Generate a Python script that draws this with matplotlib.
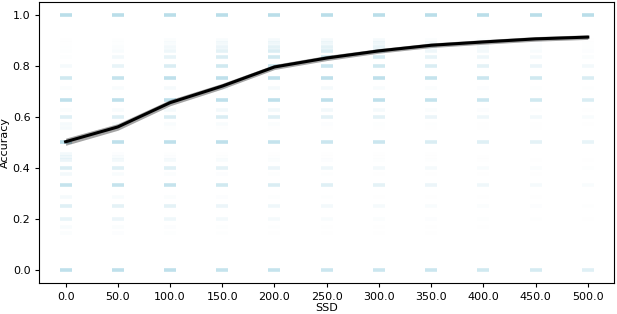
import numpy as np
import matplotlib
matplotlib.use("Agg")
import matplotlib.pyplot as plt

ssd = [0.0, 50.0, 100.0, 150.0, 200.0, 250.0, 300.0, 350.0, 400.0, 450.0, 500.0]
mean_acc = [0.502, 0.560, 0.655, 0.720, 0.795, 0.830, 0.858, 0.880, 0.893, 0.905, 0.912]
ci_half = [0.014, 0.013, 0.012, 0.011, 0.010, 0.010, 0.009, 0.009, 0.009, 0.009, 0.009]

# accuracy levels seen in the strip and how dense each is per SSD column (0..1)
levels = [1.0, 0.9, 0.889, 0.875, 0.857, 0.833, 0.8, 0.75, 0.714, 0.667, 0.625,
          0.6, 0.571, 0.556, 0.5, 0.455, 0.444, 0.429, 0.4, 0.375, 0.333,
          0.286, 0.25, 0.2, 0.167, 0.143, 0.0]
density = {
    1.0:   [0.9, 0.9, 0.9, 0.9, 0.9, 0.9, 0.9, 0.9, 0.9, 0.9, 0.9],
    0.9:   [0.05, 0.08, 0.15, 0.2, 0.25, 0.25, 0.25, 0.15, 0.1, 0.05, 0.05],
    0.889: [0.05, 0.1, 0.2, 0.3, 0.35, 0.35, 0.35, 0.25, 0.2, 0.12, 0.08],
    0.875: [0.08, 0.15, 0.3, 0.4, 0.5, 0.5, 0.45, 0.3, 0.25, 0.15, 0.1],
    0.857: [0.1, 0.2, 0.35, 0.5, 0.6, 0.6, 0.55, 0.35, 0.3, 0.2, 0.12],
    0.833: [0.1, 0.3, 0.45, 0.6, 0.7, 0.7, 0.65, 0.45, 0.35, 0.25, 0.15],
    0.8:   [0.25, 0.45, 0.6, 0.7, 0.75, 0.75, 0.7, 0.6, 0.5, 0.4, 0.3],
    0.75:  [0.7, 0.8, 0.85, 0.85, 0.85, 0.85, 0.85, 0.8, 0.75, 0.7, 0.6],
    0.714: [0.15, 0.2, 0.25, 0.25, 0.25, 0.25, 0.2, 0.15, 0.12, 0.1, 0.08],
    0.667: [0.85, 0.85, 0.85, 0.85, 0.85, 0.85, 0.85, 0.8, 0.75, 0.7, 0.6],
    0.625: [0.15, 0.2, 0.25, 0.3, 0.3, 0.3, 0.25, 0.15, 0.12, 0.08, 0.06],
    0.6:   [0.55, 0.55, 0.6, 0.6, 0.55, 0.5, 0.5, 0.4, 0.35, 0.3, 0.2],
    0.571: [0.25, 0.2, 0.2, 0.2, 0.15, 0.12, 0.1, 0.08, 0.06, 0.05, 0.04],
    0.556: [0.25, 0.15, 0.1, 0.08, 0.06, 0.05, 0.05, 0.04, 0.03, 0.03, 0.02],
    0.5:   [0.9, 0.85, 0.85, 0.85, 0.8, 0.75, 0.75, 0.6, 0.55, 0.5, 0.45],
    0.455: [0.3, 0.12, 0.08, 0.06, 0.05, 0.04, 0.04, 0.03, 0.02, 0.02, 0.02],
    0.444: [0.35, 0.2, 0.12, 0.1, 0.08, 0.06, 0.05, 0.04, 0.03, 0.02, 0.02],
    0.429: [0.4, 0.3, 0.25, 0.2, 0.15, 0.12, 0.1, 0.08, 0.06, 0.04, 0.03],
    0.4:   [0.6, 0.55, 0.55, 0.5, 0.4, 0.35, 0.3, 0.25, 0.2, 0.15, 0.1],
    0.375: [0.3, 0.2, 0.15, 0.12, 0.1, 0.08, 0.06, 0.05, 0.04, 0.03, 0.02],
    0.333: [0.8, 0.8, 0.8, 0.7, 0.6, 0.55, 0.5, 0.4, 0.35, 0.25, 0.2],
    0.286: [0.25, 0.2, 0.15, 0.12, 0.1, 0.08, 0.06, 0.05, 0.04, 0.03, 0.02],
    0.25:  [0.55, 0.5, 0.5, 0.4, 0.35, 0.3, 0.25, 0.2, 0.15, 0.12, 0.08],
    0.2:   [0.45, 0.4, 0.35, 0.3, 0.25, 0.2, 0.15, 0.12, 0.1, 0.08, 0.06],
    0.167: [0.2, 0.15, 0.12, 0.1, 0.08, 0.06, 0.05, 0.04, 0.03, 0.02, 0.02],
    0.143: [0.15, 0.12, 0.1, 0.08, 0.06, 0.05, 0.04, 0.03, 0.02, 0.02, 0.02],
    0.0:   [0.85, 0.85, 0.85, 0.8, 0.8, 0.75, 0.75, 0.75, 0.7, 0.65, 0.55],
}

fig, ax = plt.subplots(figsize=(6.17, 3.14), dpi=100)
fig.subplots_adjust(left=0.064, right=0.995, bottom=0.1, top=0.994)

pos = np.arange(len(ssd))
for lv in levels:
    for i, d in enumerate(density[lv]):
        # faint levels fade out faster than the dense ones
        ax.plot(pos[i], lv, marker='_', color='lightblue', markersize=9,
                markeredgewidth=2.6, alpha=d ** 1.6, linestyle='none', zorder=1)

lo = np.array(mean_acc) - np.array(ci_half)
hi = np.array(mean_acc) + np.array(ci_half)
ax.fill_between(pos, lo, hi, color='black', alpha=0.35, linewidth=0, zorder=2)
ax.plot(pos, mean_acc, color='black', linewidth=2.2, zorder=3)

ax.set_xlim(-0.5, 10.5)
ax.set_ylim(-0.05, 1.05)
ax.set_xticks(pos)
ax.set_xticklabels([f"{v:.1f}" for v in ssd])
ax.set_yticks([0.0, 0.2, 0.4, 0.6, 0.8, 1.0])
ax.tick_params(labelsize=8, length=3)
ax.set_xlabel("SSD", fontsize=8, labelpad=1)
ax.set_ylabel("Accuracy", fontsize=8, labelpad=2)

fig.savefig("out.png", dpi=100)
